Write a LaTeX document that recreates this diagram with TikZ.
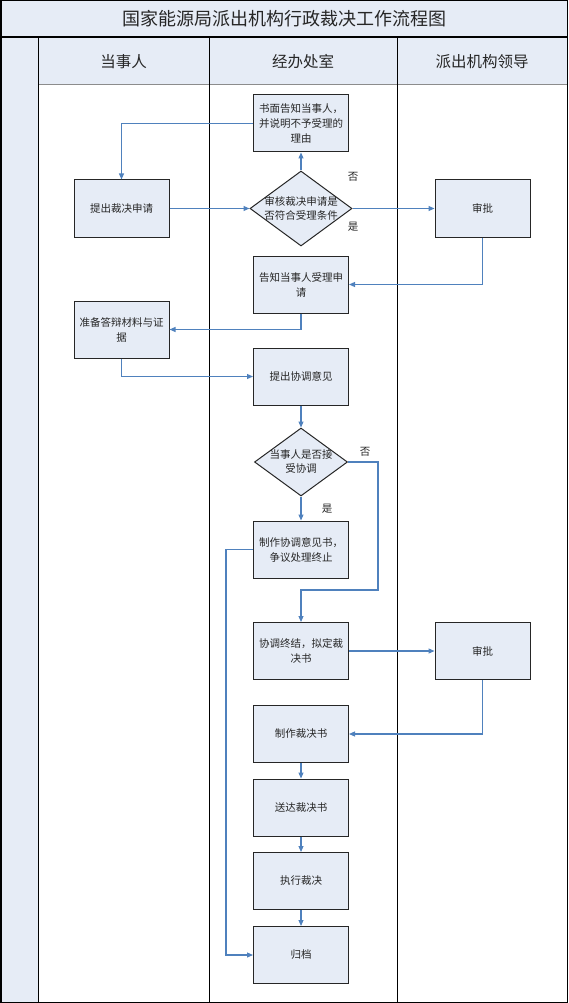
\documentclass[tikz,border=0pt]{standalone}
\usepackage{fontspec}
\setmainfont{Noto Sans CJK SC}
\usetikzlibrary{arrows.meta,shapes.geometric}
\definecolor{panel}{HTML}{E6ECF6}
\definecolor{flowline}{HTML}{4F81BD}

\begin{document}
\begin{tikzpicture}[x=1pt,y=-1pt,>={Triangle[length=6pt,width=5pt]},
	box/.style={draw=black!85,line width=1pt,fill=panel,minimum width=95pt,minimum height=57pt,inner sep=0pt,align=center,text=black!85,font=\fontsize{10.5}{15}\selectfont},
	ask/.style={diamond,draw=black!85,line width=1pt,fill=panel,inner sep=-10pt,align=center,text=black!85,font=\fontsize{10.5}{14}\selectfont},
	flow/.style={draw=flowline,line width=1.1pt,->},
	note/.style={text=black!85,font=\fontsize{10.5}{12}\selectfont}]
		\useasboundingbox (0,0) rectangle (568,1003);
		\fill[panel] (0,0) rectangle (567,37);
		\fill[panel] (0,37) rectangle (38,1002);
		\fill[panel] (38,37) rectangle (567,85);
		\draw[black!45,line width=1pt] (38,85) -- (567,85);
		\draw[line width=1pt] (38,37) -- (38,1002) (209,37) -- (209,1002) (397,37) -- (397,1002);
		\draw[line width=2pt] (0,37) -- (567,37);
		\draw[line width=1.5pt] (0.75,0.75) rectangle (567.25,1002.25);
		\node[text=black!85,font=\fontsize{18}{20}\selectfont] (title) at (284,19) {国家能源局派出机构行政裁决工作流程图};
		\node[text=black!85,font=\fontsize{15.5}{18}\selectfont] (party) at (123.5,62) {当事人};
		\node[text=black!85,font=\fontsize{15.5}{18}\selectfont] (office) at (303,62) {经办处室};
		\node[text=black!85,font=\fontsize{15.5}{18}\selectfont] (leader) at (482,62) {派出机构领导};
		\node[box] (reject) at (301,123.5) {书面告知当事人，\\并说明不予受理的\\理由};
		\node[box] (apply) at (121.5,208.5) {提出裁决申请};
		\node[ask,minimum width=102pt,minimum height=75pt] (check) at (301,208.5) {审核裁决申请是\\否符合受理条件};
		\node[box] (approveA) at (482.5,208.5) {审批};
		\node[box] (accept) at (301,284.5) {告知当事人受理申\\请};
		\node[box] (prepare) at (121.5,329.5) {准备答辩材料与证\\据};
		\node[box] (mediate) at (301,376.5) {提出协调意见};
		\node[ask,minimum width=93pt,minimum height=68pt] (agree) at (301,462) {当事人是否接\\受协调};
		\node[box] (settle) at (301,549.5) {制作协调意见书，\\争议处理终止};
		\node[box] (draft) at (301,651) {协调终结，拟定裁\\决书};
		\node[box] (approveB) at (482.5,651) {审批};
		\node[box] (issue) at (301,734) {制作裁决书};
		\node[box] (deliver) at (301,807.5) {送达裁决书};
		\node[box] (execute) at (301,881) {执行裁决};
		\node[box] (archive) at (301,955) {归档};
		\node[note] (noA) at (353,177) {否};
		\node[note] (yesA) at (353,227) {是};
		\node[note] (noB) at (365,452) {否};
		\node[note] (yesB) at (327,509) {是};
		\coordinate (bend) at (301,590);
		\draw[flow] (reject.west) -| (apply.north);
		\draw[flow] (apply) -- (check);
		\draw[flow] (check) -- (reject);
		\draw[flow] (check) -- (approveA);
		\draw[flow] (approveA.south) |- (accept.east);
		\draw[flow] (accept.south) |- (prepare.east);
		\draw[flow] (prepare.south) |- (mediate.west);
		\draw[flow] (mediate) -- (agree);
		\draw[flow] (agree) -- (settle);
		\draw[flow] (agree.east) -- ++(30,0) |- (bend) -- (draft.north);
		\draw[flow] (settle.west) -- ++(-27,0) |- (archive.west);
		\draw[flow] (draft) -- (approveB);
		\draw[flow] (approveB.south) |- (issue.east);
		\draw[flow] (issue) -- (deliver);
		\draw[flow] (deliver) -- (execute);
		\draw[flow] (execute) -- (archive);
	\end{tikzpicture}
\end{document}
